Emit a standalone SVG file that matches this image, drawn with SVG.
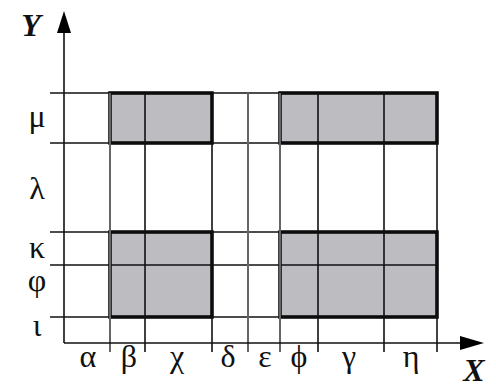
<svg xmlns="http://www.w3.org/2000/svg" width="496" height="388" viewBox="0 0 496 388">
<defs>
<style>
.grid{stroke:#111;stroke-width:1.6;fill:none}
.gray{stroke:#666;stroke-width:2}
.cell{fill:#bdbcc1;stroke:#000;stroke-width:3.5}
.lbl{font-family:"Liberation Serif","Times New Roman",serif;font-size:32px;fill:#111;text-anchor:middle}
.ax{font-family:"Liberation Serif","Times New Roman",serif;font-size:32px;font-style:italic;font-weight:bold;fill:#111;text-anchor:middle}
</style>
</defs>
<rect width="496" height="388" fill="#fff"/>
<g id="shaded">
<rect class="cell" x="110" y="93" width="102" height="50"/>
<rect class="cell" x="280" y="93" width="157" height="50"/>
<rect class="cell" x="110" y="232" width="102" height="85"/>
<rect class="cell" x="280" y="232" width="157" height="85"/>
</g>
<g id="connectors">
<line class="grid" x1="50" y1="93" x2="437" y2="93"/>
<line class="grid" x1="50" y1="143" x2="437" y2="143"/>
<line class="grid" x1="50" y1="232" x2="437" y2="232"/>
<line class="grid" x1="50" y1="265" x2="437" y2="265"/>
<line class="grid" x1="50" y1="317" x2="437" y2="317"/>
<line class="grid gray" x1="110" y1="93" x2="110" y2="352"/>
<line class="grid" x1="145" y1="93" x2="145" y2="352"/>
<line class="grid" x1="212" y1="93" x2="212" y2="352"/>
<line class="grid gray" x1="248" y1="93" x2="248" y2="352"/>
<line class="grid gray" x1="280" y1="93" x2="280" y2="352"/>
<line class="grid" x1="318" y1="93" x2="318" y2="352"/>
<line class="grid" x1="384" y1="93" x2="384" y2="352"/>
<line class="grid" x1="437" y1="93" x2="437" y2="352"/>
<line class="grid" x1="64" y1="343" x2="64" y2="28"/>
<line class="grid" x1="64" y1="343" x2="466" y2="343"/>
<polygon points="64,11 57,33 71,33" fill="#000"/>
<polygon points="484,343 460,336 460,350" fill="#000"/>
</g>
<g id="y-labels">
<text class="ax" x="31" y="36">Y</text>
<text class="lbl" x="37" y="127">μ</text>
<text class="lbl" x="37" y="199">λ</text>
<text class="lbl" x="37" y="258">κ</text>
<text class="lbl" x="37" y="291">φ</text>
<text class="lbl" x="37" y="336">ι</text>
</g>
<g id="x-labels">
<text class="lbl" x="88" y="367">α</text>
<text class="lbl" x="129" y="367">β</text>
<text class="lbl" x="177" y="367">χ</text>
<text class="lbl" x="228" y="367">δ</text>
<text class="lbl" x="265" y="367">ε</text>
<text class="lbl" x="299" y="367">ϕ</text>
<text class="lbl" x="349" y="367">γ</text>
<text class="lbl" x="411" y="367">η</text>
<text class="ax" x="474" y="381">X</text>
</g>
</svg>
